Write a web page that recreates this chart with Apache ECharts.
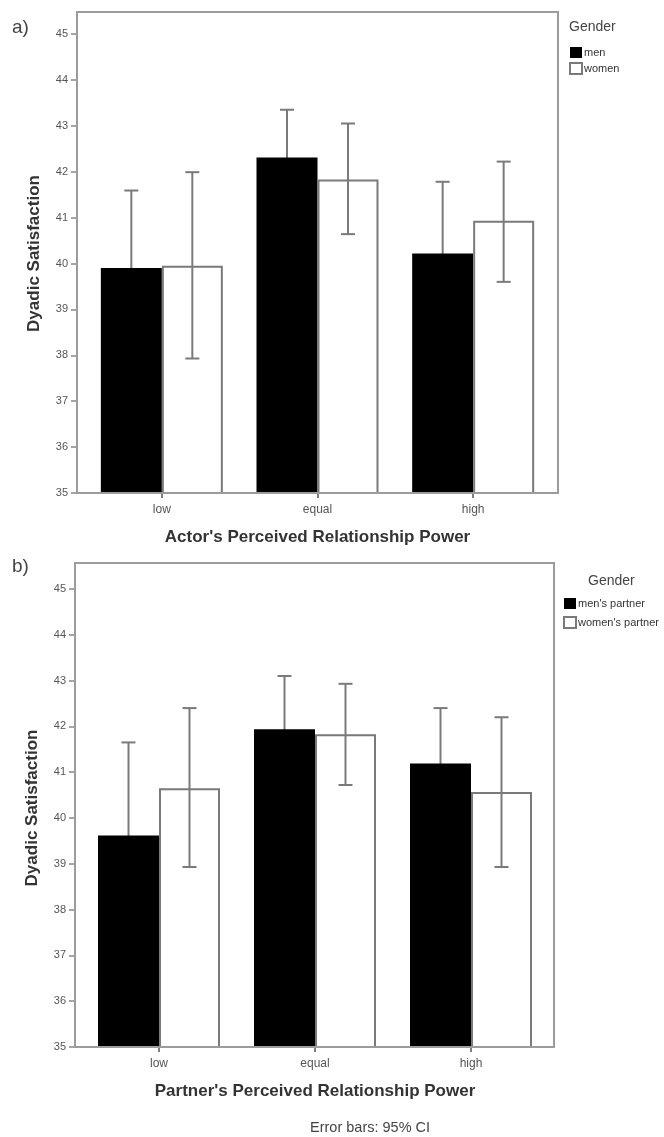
<!DOCTYPE html>
<html>
<head>
<meta charset="utf-8">
<script src="https://cdn.jsdelivr.net/npm/echarts@6/dist/echarts.min.js"></script>
<style>
html,body{margin:0;padding:0;background:#fff;}
#chart{width:664px;height:1137px;}
</style>
</head>
<body>
<div id="chart"></div>
<script>
// ---- data ----
const categories = ['low', 'equal', 'high'];
const yTicks = [35, 36, 37, 38, 39, 40, 41, 42, 43, 44, 45];

const actorMen = [39.90, 42.31, 40.22];
const actorMenLow = [38.21, 41.27, 38.66];
const actorMenHigh = [41.59, 43.35, 41.78];
const actorWomen = [39.95, 41.83, 40.93];
const actorWomenLow = [37.93, 40.64, 39.60];
const actorWomenHigh = [41.99, 43.05, 42.22];

const partnerMen = [39.62, 41.94, 41.19];
const partnerMenLow = [37.59, 40.78, 39.98];
const partnerMenHigh = [41.65, 43.10, 42.40];
const partnerWomen = [40.65, 41.83, 40.57];
const partnerWomenLow = [38.93, 40.72, 38.93];
const partnerWomenHigh = [42.40, 42.93, 42.20];

// ---- styling ----
const FONT = 'Liberation Sans, Arial, sans-serif';
const BAR_W = 61;
const ERR_COLOR = '#7a7a7a';
const FRAME_COLOR = '#9c9c9c';
const TEXT_DARK = '#333';
const TEXT_TICK = '#555';

function ciData(low, high) {
  return categories.map((c, i) => [i, low[i], high[i]]);
}
function errRenderer(sign) {
  return function (params, api) {
    const idx = api.value(0);
    const lo = api.coord([idx, api.value(1)]);
    const hi = api.coord([idx, api.value(2)]);
    const x = lo[0] + sign * BAR_W / 2;
    const cap = 7;
    const st = { stroke: ERR_COLOR, lineWidth: 2 };
    return {
      type: 'group',
      children: [
        { type: 'line', shape: { x1: x, y1: lo[1], x2: x, y2: hi[1] }, style: st },
        { type: 'line', shape: { x1: x - cap, y1: hi[1], x2: x + cap, y2: hi[1] }, style: st },
        { type: 'line', shape: { x1: x - cap, y1: lo[1], x2: x + cap, y2: lo[1] }, style: st }
      ]
    };
  };
}

const chart = echarts.init(document.getElementById('chart'), null, { renderer: 'canvas' });

function yAxisCfg(gridIndex, offset) {
  return {
    type: 'value', gridIndex: gridIndex, min: yTicks[0], max: yTicks[yTicks.length - 1], interval: 1,
    offset: offset,
    name: 'Dyadic Satisfaction', nameLocation: 'middle', nameGap: 34, nameRotate: 90,
    nameTextStyle: { fontFamily: FONT, fontWeight: 'bold', fontSize: 17, color: TEXT_DARK, padding: [0, 0, 0, 20] },
    axisLine: { show: true, lineStyle: { color: FRAME_COLOR, width: 2 } },
    axisTick: { show: true, length: 6, lineStyle: { color: '#888', width: 1.5 } },
    axisLabel: { fontFamily: FONT, fontSize: 11, color: TEXT_TICK, margin: 9 },
    splitLine: { show: false }
  };
}
function xAxisCfg(gridIndex, name) {
  return {
    type: 'category', gridIndex: gridIndex, data: categories,
    name: name, nameLocation: 'middle', nameGap: 36,
    nameTextStyle: { fontFamily: FONT, fontWeight: 'bold', fontSize: 17, color: TEXT_DARK },
    axisLine: { show: false },
    axisTick: { show: true, alignWithLabel: true, length: 5, lineStyle: { color: '#555', width: 1.5 } },
    axisLabel: { fontFamily: FONT, fontSize: 12, color: TEXT_TICK, margin: 11 }
  };
}
function barSeries(name, data, axisIdx, fill) {
  return {
    name: name, type: 'bar', xAxisIndex: axisIdx, yAxisIndex: axisIdx, data: data,
    barWidth: BAR_W, barGap: '0%', z: 2,
    itemStyle: fill === 'black'
      ? { color: '#000', borderColor: '#000', borderWidth: 0 }
      : { color: '#fff', borderColor: ERR_COLOR, borderWidth: 2 }
  };
}
function errSeries(name, low, high, axisIdx, sign, z) {
  return {
    name: name, type: 'custom', xAxisIndex: axisIdx, yAxisIndex: axisIdx,
    data: ciData(low, high), renderItem: errRenderer(sign), z: z, silent: true
  };
}

const option = {
  backgroundColor: '#fff',
  animation: false,
  grid: [
    { left: 84, width: 467, top: 34, height: 459 },
    { left: 81, width: 468, top: 589, height: 458 }
  ],
  xAxis: [
    xAxisCfg(0, "Actor's Perceived Relationship Power"),
    xAxisCfg(1, "Partner's Perceived Relationship Power")
  ],
  yAxis: [yAxisCfg(0, 7), yAxisCfg(1, 6)],
  legend: [
    {
      data: ['men', 'women'], orient: 'vertical', left: 564, top: 42,
      icon: 'rect', itemWidth: 12, itemHeight: 11, itemGap: 4,
      textStyle: { fontFamily: FONT, fontSize: 11, color: TEXT_DARK, padding: [0, 0, 0, -3] }
    },
    {
      data: ["men's partner", "women's partner"], orient: 'vertical', left: 558, top: 593,
      icon: 'rect', itemWidth: 12, itemHeight: 11, itemGap: 7,
      textStyle: { fontFamily: FONT, fontSize: 11, color: TEXT_DARK, padding: [0, 0, 0, -3] }
    }
  ],
  series: [
    errSeries('men CI', actorMenLow, actorMenHigh, 0, -1, 1),
    barSeries('men', actorMen, 0, 'black'),
    barSeries('women', actorWomen, 0, 'white'),
    errSeries('women CI', actorWomenLow, actorWomenHigh, 0, 1, 3),
    errSeries("men's partner CI", partnerMenLow, partnerMenHigh, 1, -1, 1),
    barSeries("men's partner", partnerMen, 1, 'black'),
    barSeries("women's partner", partnerWomen, 1, 'white'),
    errSeries("women's partner CI", partnerWomenLow, partnerWomenHigh, 1, 1, 3)
  ],
  graphic: [
    { type: 'rect', shape: { x: 77, y: 12, width: 481, height: 481 }, style: { fill: 'none', stroke: FRAME_COLOR, lineWidth: 2 }, z: 10 },
    { type: 'rect', shape: { x: 75, y: 563, width: 479, height: 484 }, style: { fill: 'none', stroke: FRAME_COLOR, lineWidth: 2 }, z: 10 },
    { type: 'text', left: 12, top: 18, style: { text: 'a)', font: '19px ' + FONT, fill: '#444' } },
    { type: 'text', left: 12, top: 557, style: { text: 'b)', font: '19px ' + FONT, fill: '#444' } },
    { type: 'text', left: 569, top: 20, style: { text: 'Gender', font: '14px ' + FONT, fill: '#444' } },
    { type: 'text', left: 588, top: 574, style: { text: 'Gender', font: '14px ' + FONT, fill: '#444' } },
    { type: 'text', left: 310, top: 1120, style: { text: 'Error bars: 95% CI', font: '14.5px ' + FONT, fill: '#444' } }
  ]
};
chart.setOption(option);
</script>
</body>
</html>
